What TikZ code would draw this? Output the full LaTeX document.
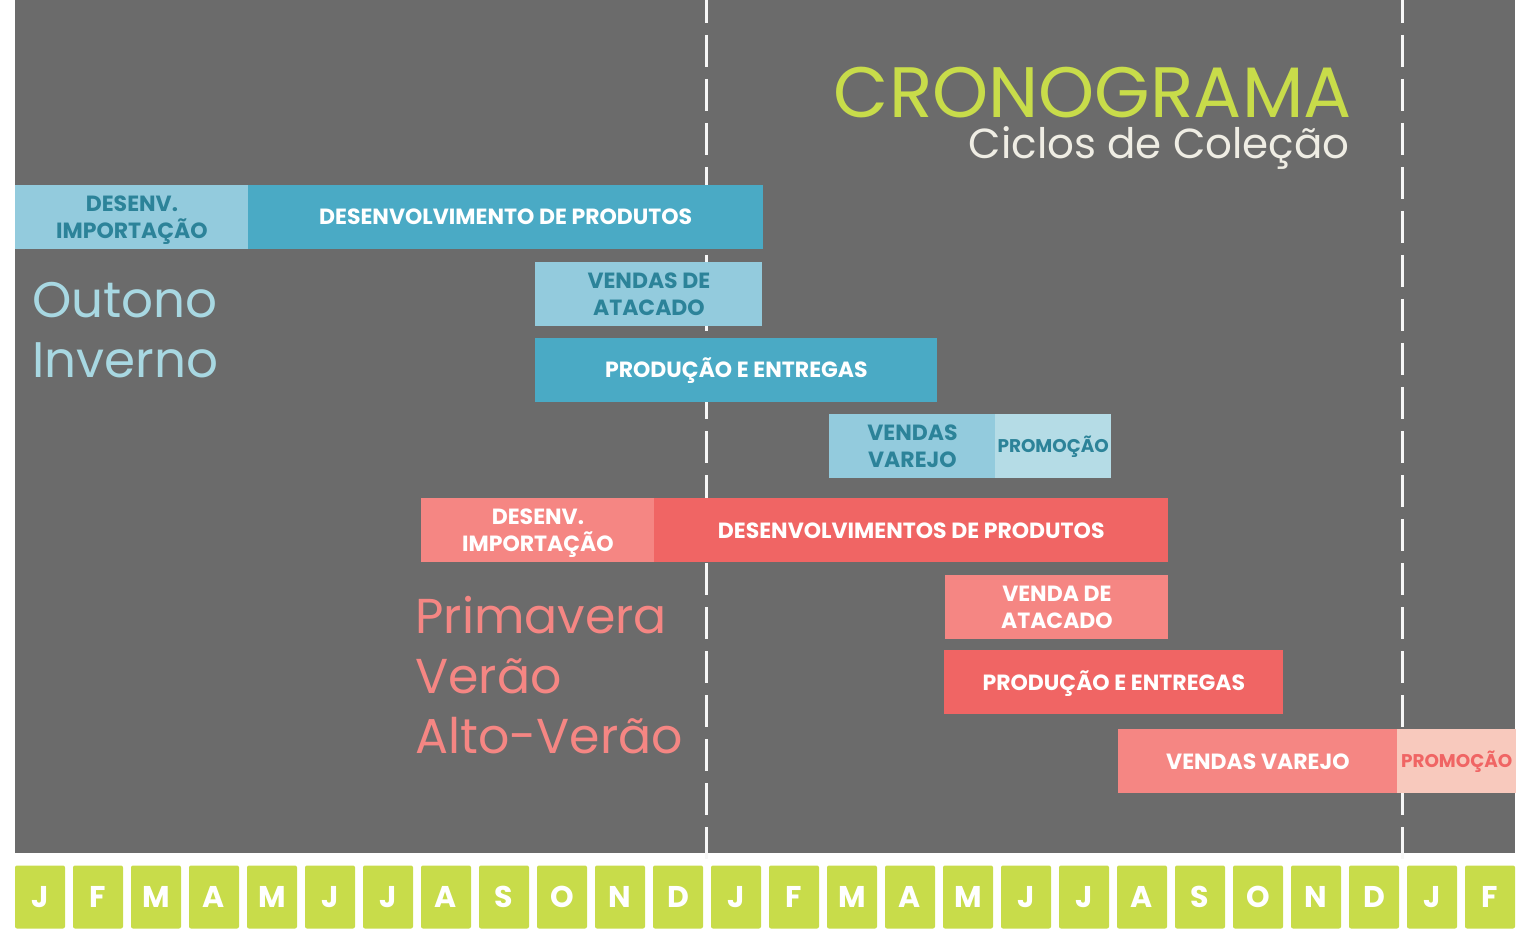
\documentclass[tikz,border=0pt]{standalone}
\usepackage{fontspec}
\setmainfont{Poppins}
\usepackage{xcolor}
\usetikzlibrary{positioning}

\definecolor{bggray}{HTML}{6B6B6B}
\definecolor{bluebar}{HTML}{4AAAC5}
\definecolor{bluelight}{HTML}{93CBDD}
\definecolor{bluepale}{HTML}{B5DCE6}
\definecolor{blueink}{HTML}{2C8399}
\definecolor{bluetitle}{HTML}{A8D8E2}
\definecolor{redbar}{HTML}{F06564}
\definecolor{redlight}{HTML}{F58683}
\definecolor{redpale}{HTML}{F8C9BD}
\definecolor{lime}{HTML}{C8DC4A}
\definecolor{offwhite}{HTML}{EFEDE4}

\begin{document}
\begin{tikzpicture}[
  x=0.5pt, y=-0.5pt,
  bar/.style={anchor=north west, inner sep=0pt, minimum height=32pt,
              align=center, text height=7.6pt, text depth=0pt,
              font=\bfseries\fontsize{11}{13.5}\selectfont},
  twoline/.style={text height=21.1pt, text depth=0pt},
  bluemain/.style={bar, fill=bluebar, text=white},
  bluesoft/.style={bar, fill=bluelight, text=blueink},
  bluepromo/.style={bar, fill=bluepale, text=blueink, text height=6.4pt,
                    font=\bfseries\fontsize{9.2}{11}\selectfont},
  redmain/.style={bar, fill=redbar, text=white},
  redsoft/.style={bar, fill=redlight, text=white},
  redpromo/.style={bar, fill=redpale, text=redbar, text height=6.4pt,
                   font=\bfseries\fontsize{9.2}{11}\selectfont},
  season/.style={anchor=base west, inner sep=0pt, font=\fontsize{25}{27}\selectfont},
  month/.style={fill=lime, text=white, rounded corners=1pt, minimum width=25pt,
                minimum height=31.5pt, inner sep=0pt,
                font=\bfseries\fontsize{15}{15}\selectfont},
  sep/.style={draw=white!94!gray, line width=1.5pt, dash pattern=on 16pt off 6pt,
              dash phase=4.5pt},
]
  \useasboundingbox (0,0) rectangle (1525,935);
  \fill[bggray] (15,0) rectangle (1515,853);

  % year separators
  \coordinate (y1t) at (706,0);   \coordinate (y1b) at (706,860);
  \coordinate (y2t) at (1402,0);  \coordinate (y2b) at (1402,860);
  \draw[sep] (y1t) -- (y1b);
  \draw[sep] (y2t) -- (y2b);

  % title
  \node[anchor=base east, inner sep=0pt, text=lime, font=\fontsize{35.7}{36}\selectfont]
    (title) at (1352,118) {CRONOGRAMA};
  \node[anchor=base east, inner sep=0pt, text=offwhite, font=\fontsize{21}{22}\selectfont]
    (subtitle) at (1350,159) {Ciclos de Coleção};

  % outono / inverno
  \node[bluesoft, twoline, minimum width=116.5pt] (oiimp) at (15,185) {DESENV.\\IMPORTAÇÃO};
  \node[bluemain, minimum width=257.5pt, right=-0.5pt of oiimp] (oidev) {DESENVOLVIMENTO DE PRODUTOS};
  \node[bluesoft, twoline, minimum width=113.5pt] (oiata) at (535,262) {VENDAS DE\\ATACADO};
  \node[bluemain, minimum width=201pt] (oiprod) at (535,338) {PRODUÇÃO E ENTREGAS};
  \node[bluesoft, twoline, minimum width=83pt] (oivar) at (829,414) {VENDAS\\VAREJO};
  \node[bluepromo, minimum width=58pt, right=-0.5pt of oivar] (oipromo) {PROMOÇÃO};
  \node[season, text=bluetitle] (oi1) at (32,318) {Outono};
  \node[season, text=bluetitle] (oi2) at (32,378) {Inverno};

  % primavera / verao
  \node[redsoft, twoline, minimum width=116.5pt] (pvimp) at (421,498) {DESENV.\\IMPORTAÇÃO};
  \node[redmain, minimum width=257pt, right=-0.5pt of pvimp] (pvdev) {DESENVOLVIMENTOS DE PRODUTOS};
  \node[redsoft, twoline, minimum width=111.5pt] (pvata) at (945,575) {VENDA DE\\ATACADO};
  \node[redmain, minimum width=169.5pt] (pvprod) at (944,650) {PRODUÇÃO E ENTREGAS};
  \node[redsoft, minimum width=139.5pt] (pvvar) at (1118,729) {VENDAS VAREJO};
  \node[redpromo, minimum width=59.5pt, right=-0.5pt of pvvar] (pvpromo) {PROMOÇÃO};
  \node[season, text=redlight, font=\fontsize{24.5}{26}\selectfont] (pv1) at (415,633) {Primavera};
  \node[season, text=redlight, font=\fontsize{24.5}{26}\selectfont] (pv2) at (415,693) {Verão};
  \node[season, text=redlight, font=\fontsize{24.5}{26}\selectfont] (pv3) at (415,753) {Alto-Verão};

  % months
  \foreach \m [count=\i from 0] in {J,F,M,A,M,J,J,A,S,O,N,D,J,F,M,A,M,J,J,A,S,O,N,D,J,F}
    \node[month] (m\i) at ({40+58*\i},897) {\m};
\end{tikzpicture}
\end{document}
